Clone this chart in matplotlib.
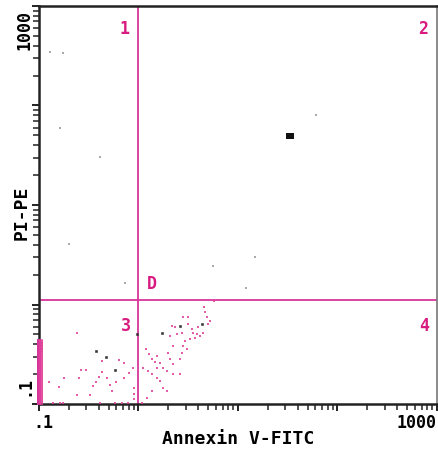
import matplotlib
matplotlib.use('Agg')
import matplotlib.pyplot as plt
from matplotlib.ticker import LogLocator, NullFormatter
import numpy as np

# log10 values (Annexin V-FITC, PI-PE)
pink_log_x = [
    0.073, 0.049, 0.110, 0.134, 0.167, 0.184, 0.217, 0.251, 0.301, 0.318,
    0.351, 0.285, 0.351, 0.385, 0.436, 0.446, 0.502, 0.502, 0.536, 0.552,
    0.587, 0.620, 0.569, 0.519, 0.469, 0.452, 0.486, 0.436, 0.419, 0.318,
    0.335, 0.368, 0.660, 0.670, 0.687, 0.720, 0.184, 0.217, 0.134, 0.251,
    0.083, 0.033, 0.285, 0.134, 0.100, 0.351, 0.419, 0.184, 0.603, 0.653,
    0.703,
    -0.618, -0.577, -0.527, -0.366, -0.195, -0.145, -0.748, -0.899, -0.799,
    -0.598, -0.427, -0.396, -0.316, -0.286, -0.225, -0.145, -0.095, -0.054,
    -0.044, -0.044, -0.044, -0.618, -0.487, -0.859, -0.789, -0.759, -0.235,
    -0.165, -0.105, -0.386, -0.366, -0.457, -0.266, 0.760,
]
pink_log_y = [
    -0.449, -0.634, -0.499, -0.550, -0.574, -0.516, -0.584, -0.640, -0.483, -0.550,
    -0.600, -0.668, -0.416, -0.298, -0.282, -0.130, -0.130, -0.197, -0.247, -0.282,
    -0.298, -0.315, -0.332, -0.348, -0.365, -0.416, -0.449, -0.483, -0.550, -0.315,
    -0.214, -0.231, -0.030, -0.080, -0.130, -0.164, -0.735, -0.768, -0.869, -0.836,
    -0.937, -0.987, -0.869, -0.701, -0.668, -0.701, -0.701, -0.634, -0.231, -0.282,
    -0.197,
    -0.285, -0.657, -0.657, -0.678, -0.557, -0.587, -0.738, -0.778, -0.829,
    -0.738, -0.778, -0.728, -0.738, -0.809, -0.778, -0.738, -0.688, -0.637,
    -0.839, -0.899, -0.950, -0.909, -0.909, -0.990, -0.990, -0.990, -0.990,
    -0.990, -0.990, -0.990, -0.567, -0.819, -0.869, 0.040,
]

# events piled up on the left edge (Annexin below .1)
edge_log_y = [
    -0.365, -0.38, -0.395, -0.41, -0.425, -0.44, -0.455, -0.47, -0.49, -0.51,
    -0.53, -0.55, -0.57, -0.59, -0.61, -0.63, -0.65, -0.67, -0.69, -0.71,
    -0.73, -0.75, -0.77, -0.79, -0.81, -0.83, -0.85, -0.87, -0.89, -0.91,
    -0.93, -0.95, -0.97, -0.99,
]

dark_log_x = [0.234, 0.637, 0.419, -0.427, -0.326, -0.235, -0.014]
dark_log_y = [-0.282, -0.197, -0.214, -0.466, -0.526, -0.657, -0.295]

gray_log_x = [1.787, 0.750, 1.173, 1.083, -0.698, -0.135, -0.889, -0.759, -0.789, -0.386]
gray_log_y = [1.902, 0.390, 0.481, 0.169, 0.612, 0.219, 2.537, 2.526, 1.771, 1.479]

big_log_x = [1.515]
big_log_y = [1.690]

x_gate = 1.0
y_gate = 1.1

pink = '#e0409a'
line_pink = '#d8359a'
text_pink = '#d81b80'
mono = 'DejaVu Sans Mono'

fig = plt.figure(figsize=(4.39, 4.54), dpi=100)
ax = fig.add_axes([0.0888, 0.1101, 0.9066, 0.8767])
ax.set_xscale('log')
ax.set_yscale('log')
ax.set_xlim(0.1, 1000)
ax.set_ylim(0.1, 1000)

ax.scatter(10 ** np.array(pink_log_x), 10 ** np.array(pink_log_y),
           s=4, marker='s', c=pink, linewidths=0, alpha=0.85, zorder=3)
edge_y = 10 ** np.array(edge_log_y)
ax.scatter(np.full(len(edge_y), 0.101), edge_y, s=7, marker='s', c=line_pink,
           linewidths=0, zorder=3, clip_on=False)
ax.scatter(np.full(len(edge_y), 0.104), edge_y, s=5, marker='s', c=pink,
           linewidths=0, alpha=0.7, zorder=3, clip_on=False)
ax.scatter(10 ** np.array(dark_log_x), 10 ** np.array(dark_log_y),
           s=4, marker='s', c='#333333', linewidths=0.4, edgecolors='#333333', zorder=4)
ax.scatter(10 ** np.array(gray_log_x), 10 ** np.array(gray_log_y),
           s=3, marker='s', c='#aaaaaa', linewidths=0, zorder=4)
ax.plot(10 ** np.array(big_log_x), 10 ** np.array(big_log_y), linestyle='none',
        marker='s', markersize=5, markeredgewidth=0, color='#111111', zorder=4)
ax.plot(10 ** np.array(big_log_x) * 1.04, 10 ** np.array(big_log_y), linestyle='none',
        marker='s', markersize=5, markeredgewidth=0, color='#111111', zorder=4)

ax.axvline(x_gate, color=line_pink, lw=1.3, zorder=2)
ax.axhline(y_gate, color=line_pink, lw=1.3, zorder=2)

# quadrant numbers and gate letter
for txt, xf, yf in [('1', 0.214, 0.942), ('2', 0.965, 0.942),
                    ('3', 0.219, 0.196), ('4', 0.967, 0.196)]:
    ax.text(xf, yf, txt, transform=ax.transAxes, ha='center', va='center',
            color=text_pink, fontsize=12, fontweight='bold', family=mono)
ax.text(1.37, 1.62, 'D', ha='center', va='center', color=text_pink,
        fontsize=12, fontweight='bold', family=mono)

# ticks
major = [0.1, 1, 10, 100, 1000]
ax.set_xticks(major)
ax.set_yticks(major)
ax.set_xticklabels([])
ax.set_yticklabels([])
for axis in (ax.xaxis, ax.yaxis):
    axis.set_minor_locator(LogLocator(base=10, subs=np.arange(2, 10), numticks=20))
    axis.set_minor_formatter(NullFormatter())
ax.tick_params(which='major', direction='out', length=5, width=1.4, color='#222222')
ax.tick_params(which='minor', direction='out', length=4, width=1.1, color='#222222')

ax.text(0.012, -0.025, '.1', transform=ax.transAxes, ha='center', va='top',
        fontsize=12, fontweight='bold', family=mono)
ax.text(1.0, -0.025, '1000', transform=ax.transAxes, ha='right', va='top',
        fontsize=12, fontweight='bold', family=mono)
ax.text(-0.015, 0.045, '.1', transform=ax.transAxes, ha='right', va='center',
        rotation=90, fontsize=12, fontweight='bold', family=mono)
ax.text(-0.015, 0.94, '1000', transform=ax.transAxes, ha='right', va='center',
        rotation=90, fontsize=12, fontweight='bold', family=mono)

ax.set_xlabel('Annexin V-FITC', fontsize=13, fontweight='bold', family=mono)
ax.xaxis.set_label_coords(0.5, -0.065)
ax.set_ylabel('PI-PE', fontsize=13, fontweight='bold', family=mono)
ax.yaxis.set_label_coords(-0.022, 0.48)

for side in ['left', 'bottom', 'top']:
    ax.spines[side].set_linewidth(1.8)
    ax.spines[side].set_color('#222222')
ax.spines['right'].set_linewidth(1.2)
ax.spines['right'].set_color('#777777')

fig.savefig('out.png', dpi=100)
